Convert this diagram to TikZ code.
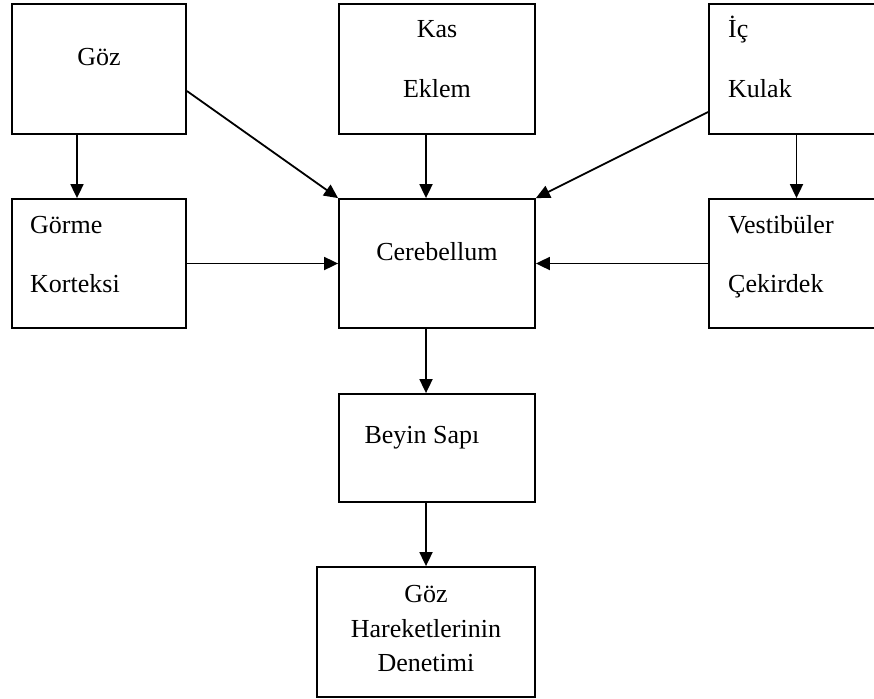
\documentclass[tikz,border=0pt]{standalone}
\usepackage{fontspec}
\setmainfont{Liberation Serif}
\usetikzlibrary{arrows.meta}
\tikzset{
  every picture/.style={line join=miter, >={Triangle[length=14pt,width=13pt]}},
  box/.style={draw, rectangle, line width=1.8pt, inner sep=0pt},
  lbl/.style={inner sep=0pt, font=\fontsize{26}{31}\selectfont},
  link/.style={line width=1.8pt, ->},
}

\begin{document}
\begin{tikzpicture}[x=1pt,y=-1pt]
\useasboundingbox (0,0) rectangle (874,698);
% top row
\node[box, minimum width=174pt, minimum height=130pt] (goz) at (99,69) {};
\node[box, minimum width=196pt, minimum height=130pt] (kas) at (437,69) {};
\node[box, minimum width=175pt, minimum height=130pt] (ic) at (796.5,69) {};
% middle row
\node[box, minimum width=174pt, minimum height=129pt] (gorme) at (99,263.5) {};
\node[box, minimum width=196pt, minimum height=129pt] (cereb) at (437,263.5) {};
\node[box, minimum width=175pt, minimum height=129pt] (vest) at (796.5,263.5) {};
% lower column
\node[box, minimum width=196pt, minimum height=108pt] (beyin) at (437,448) {};
\node[box, minimum width=218pt, minimum height=130pt] (denetim) at (426,632) {};
% texts
\node[lbl, anchor=base] (gozT) at (99,66) {Göz};
\node[lbl, anchor=base] (kasT) at (437,38) {Kas};
\node[lbl, anchor=base] (eklemT) at (437,98) {Eklem};
\node[lbl, anchor=base west] (icT) at (728,38) {İç};
\node[lbl, anchor=base west] (kulakT) at (728,98) {Kulak};
\node[lbl, anchor=base west] (gormeT) at (30,233) {Görme};
\node[lbl, anchor=base west] (korteksT) at (30,292) {Korteksi};
\node[lbl, anchor=base] (cerebT) at (437,260) {Cerebellum};
\node[lbl, anchor=base west] (vestT) at (728,233) {Vestibüler};
\node[lbl, anchor=base west] (cekirT) at (728,292) {Çekirdek};
\node[lbl, anchor=base] (beyinT) at (422,443) {Beyin Sapı};
\node[lbl, anchor=base] (denA) at (426,602) {Göz};
\node[lbl, anchor=base] (denB) at (426,637) {Hareketlerinin};
\node[lbl, anchor=base] (denC) at (426,671) {Denetimi};
% arrows
\draw[link] ([xshift=-22pt]goz.south) -- ([xshift=-22pt]gorme.north);
\draw[link] ([yshift=-22pt]goz.east) -- (cereb.north west);
\draw[link] ([xshift=-11pt]kas.south) -- ([xshift=-11pt]cereb.north);
\draw[link] ([yshift=-43pt]ic.west) -- (cereb.north east);
\draw[link] (ic.south) -- (vest.north);
\draw[link] (gorme.east) -- (cereb.west);
\draw[link] (vest.west) -- (cereb.east);
\draw[link] ([xshift=-11pt]cereb.south) -- ([xshift=-11pt]beyin.north);
\draw[link] ([xshift=-11pt]beyin.south) -- (denetim.north);
\end{tikzpicture}
\end{document}
